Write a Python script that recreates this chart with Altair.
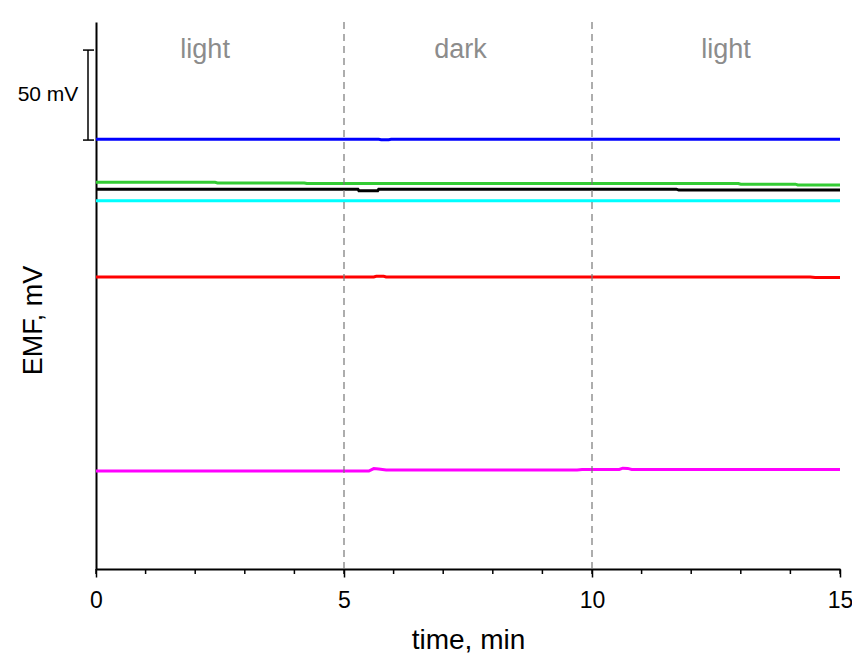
import altair as alt
import pandas as pd

# EMF traces (mV, common arbitrary offset) versus time (min)
blue_t = [0, 5.7, 5.75, 5.9, 5.95, 15]
blue_v = [238.7, 238.7, 238.5, 238.5, 238.7, 238.7]

green_t = [0, 2.4, 2.45, 4.2, 4.25, 12.95, 13.0, 14.1, 14.15, 15]
green_v = [214.8, 214.8, 214.5, 214.5, 214.2, 214.2, 213.8, 213.8, 213.4, 213.4]

black_t = [0, 5.28, 5.3, 5.68, 5.7, 11.7, 11.75, 15]
black_v = [211.0, 211.0, 210.2, 210.2, 211.0, 211.0, 210.5, 210.5]

cyan_t = [0, 15]
cyan_v = [204.6, 204.6]

red_t = [0, 5.6, 5.65, 5.8, 5.85, 14.4, 14.5, 15]
red_v = [162.2, 162.2, 162.6, 162.6, 162.2, 162.2, 161.9, 161.9]

magenta_t = [0, 5.5, 5.6, 5.7, 5.85, 9.7, 9.8, 10.55, 10.62, 10.72, 10.8, 15]
magenta_v = [54.4, 54.4, 55.8, 55.6, 55.0, 55.0, 55.3, 55.3, 56.0, 55.9, 55.3, 55.3]

series_names = ["blue", "green", "black", "cyan", "red", "magenta"]
series_colors = ["#0000ff", "#33cc33", "#000000", "#00ffff", "#ff0000", "#ff00ff"]

# light / dark periods
boundary_t = [5, 10]
phase_t = [2.2, 7.35, 12.7]
phase_text = ["light", "dark", "light"]

# scale bar
bar_bottom = 238.3
bar_span = 50
minor_ticks = list(range(16))

FONT = "Liberation Sans"

rows = []
for name, ts, vs in zip(series_names,
                        [blue_t, green_t, black_t, cyan_t, red_t, magenta_t],
                        [blue_v, green_v, black_v, cyan_v, red_v, magenta_v]):
    for t, v in zip(ts, vs):
        rows.append({"series": name, "time": t, "emf": v})
traces = pd.DataFrame(rows)

x_scale = alt.Scale(domain=[0, 15], nice=False, zero=False)
y_scale = alt.Scale(domain=[0, 303.9], nice=False, zero=False)

lines = alt.Chart(traces).mark_line(strokeWidth=3).encode(
    x=alt.X("time:Q", scale=x_scale,
            axis=alt.Axis(values=[0, 5, 10, 15], tickSize=8, tickWidth=1.5,
                          tickColor="black", domainColor="black", domainWidth=2,
                          labelFont=FONT, labelFontSize=23, labelPadding=12,
                          labelColor="black", labelFlush=False, labelOverlap=False,
                          grid=False, title="time, min", titleFont=FONT,
                          titleFontSize=28, titleFontWeight="normal",
                          titleColor="black", titlePadding=14)),
    y=alt.Y("emf:Q", scale=y_scale,
            axis=alt.Axis(ticks=False, labels=False, grid=False,
                          domainColor="black", domainWidth=2,
                          title="EMF, mV", titleFont=FONT, titleFontSize=27,
                          titleFontWeight="normal", titleColor="black",
                          titleAngle=270, titleX=-63, titleY=298,
                          titleAlign="center", titleBaseline="middle")),
    color=alt.Color("series:N", scale=alt.Scale(domain=series_names, range=series_colors),
                    legend=None),
    detail="series:N",
)

bounds = alt.Chart(pd.DataFrame({"time": boundary_t})).mark_rule(
    color="#777777", strokeWidth=1.2, strokeDash=[7, 5]
).encode(x=alt.X("time:Q", scale=x_scale))

phases = alt.Chart(pd.DataFrame({"time": phase_t, "label": phase_text})).mark_text(
    font=FONT, fontSize=27, color="#8c8c8c", align="center", baseline="middle"
).encode(
    x=alt.X("time:Q", scale=x_scale),
    y=alt.value(28),
    text="label:N",
)

minor = alt.Chart(pd.DataFrame({"time": minor_ticks})).mark_rule(
    color="black", strokeWidth=1.5
).encode(
    x=alt.X("time:Q", scale=x_scale),
    y=alt.value(547),
    y2=alt.value(552),
)

bar_df = pd.DataFrame({"lo": [bar_bottom], "hi": [bar_bottom + bar_span],
                       "mid": [bar_bottom + bar_span / 2], "label": ["50 mV"]})
caps_df = pd.DataFrame({"emf": [bar_bottom, bar_bottom + bar_span]})

bar = alt.Chart(bar_df).mark_rule(color="black", strokeWidth=1.5).encode(
    x=alt.value(-8),
    y=alt.Y("lo:Q", scale=y_scale),
    y2="hi:Q",
)
caps = alt.Chart(caps_df).mark_rule(color="black", strokeWidth=1.5).encode(
    x=alt.value(-13),
    x2=alt.value(-2),
    y=alt.Y("emf:Q", scale=y_scale),
)
bar_label = alt.Chart(bar_df).mark_text(
    font=FONT, fontSize=21, color="black", align="center", baseline="middle"
).encode(
    x=alt.value(-48),
    y=alt.Y("mid:Q", scale=y_scale),
    text="label:N",
)

chart = alt.layer(lines, bounds, phases, minor, bar, caps, bar_label).properties(
    width=744,
    height=547,
    autosize=alt.AutoSizeParams(type="none"),
    padding={"left": 96, "top": 22, "right": 12, "bottom": 88},
    background="white",
).configure_view(stroke=None)

chart.save("out.html", embed_options={"renderer": "svg", "actions": False})
